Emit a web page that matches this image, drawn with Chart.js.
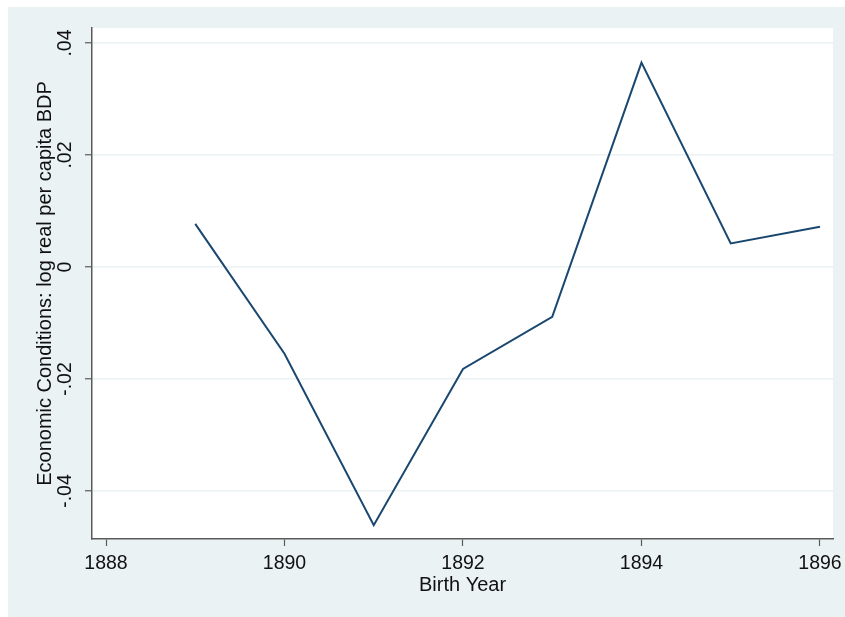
<!DOCTYPE html>
<html>
<head>
<meta charset="utf-8">
<style>
  html, body { margin: 0; padding: 0; background: #ffffff; }
  #wrap { width: 845px; height: 617px; }
</style>
<script src="https://cdn.jsdelivr.net/npm/chart.js@4/dist/chart.umd.min.js"></script>
</head>
<body>
<div id="wrap"><canvas id="c" width="845" height="617"></canvas></div>
<script>
// Birth-cohort economic conditions
const birthYears = [1889, 1890, 1891, 1892, 1893, 1894, 1895, 1896];
const logGdp = [0.0077, -0.0155, -0.0461, -0.0182, -0.0089, 0.0365, 0.0042, 0.0072];
const xTicks = [1888, 1890, 1892, 1894, 1896];
const yTicks = [-0.04, -0.02, 0, 0.02, 0.04];
const yTickLabels = ['-.04', '-.02', '0', '.02', '.04'];

const FONT = 'Liberation Sans, Arial, Helvetica, sans-serif';
const REGION = '#eaf2f3';
const AXIS = '#5a5a5a';
const TEXT = '#111111';

// graph region and white plot region
const backdrop = {
  id: 'backdrop',
  beforeDraw(chart) {
    const { ctx, chartArea: a, width, height } = chart;
    ctx.save();
    ctx.fillStyle = '#ffffff';
    ctx.fillRect(0, 0, width, height);
    ctx.fillStyle = REGION;
    ctx.fillRect(8, 7, width - 8, height - 7);
    ctx.fillStyle = '#ffffff';
    ctx.fillRect(a.left, a.top, a.right - a.left, a.bottom - a.top);
    ctx.restore();
  }
};

// vertical tick labels on the y axis
const yLabels = {
  id: 'yLabels',
  afterDraw(chart) {
    const { ctx } = chart;
    const y = chart.scales.y;
    ctx.save();
    ctx.font = '19.5px ' + FONT;
    ctx.fillStyle = TEXT;
    ctx.textAlign = 'center';
    ctx.textBaseline = 'middle';
    yTicks.forEach((v, i) => {
      ctx.save();
      ctx.translate(y.right - 26, y.getPixelForValue(v));
      ctx.rotate(-Math.PI / 2);
      ctx.fillText(yTickLabels[i], 0, 0);
      ctx.restore();
    });
    ctx.restore();
  }
};

new Chart(document.getElementById('c'), {
  type: 'line',
  data: {
    datasets: [{
      data: birthYears.map((yr, i) => ({ x: yr, y: logGdp[i] })),
      borderColor: '#1a476f',
      borderWidth: 2,
      pointRadius: 0,
      tension: 0,
      fill: false
    }]
  },
  options: {
    responsive: false,
    animation: false,
    devicePixelRatio: 1,
    layout: { padding: { top: 28, right: 0, left: 0, bottom: 0 } },
    plugins: { legend: { display: false }, tooltip: { enabled: false } },
    scales: {
      x: {
        type: 'linear',
        min: 1887.843,
        max: 1896.146,
        afterBuildTicks(s) { s.ticks = xTicks.map(v => ({ value: v })); },
        afterFit(s) { s.height = 78; s.paddingRight = 12; s.paddingLeft = 0; },
        ticks: {
          color: TEXT,
          font: { family: FONT, size: 19.5 },
          padding: 6,
          maxRotation: 0,
          callback: v => String(v)
        },
        grid: { drawOnChartArea: false, tickColor: AXIS, tickLength: 7, tickWidth: 1.2 },
        border: { color: AXIS, width: 1.5 },
        title: {
          display: true,
          text: 'Birth Year',
          color: TEXT,
          font: { family: FONT, size: 20 },
          padding: { top: 0, bottom: 20 }
        }
      },
      y: {
        type: 'linear',
        min: -0.04857,
        max: 0.04268,
        afterBuildTicks(s) { s.ticks = yTicks.map(v => ({ value: v })); },
        afterFit(s) { s.width = 92; s.paddingTop = 0; s.paddingBottom = 0; },
        ticks: { display: false },
        grid: { color: REGION, lineWidth: 1.5, tickColor: AXIS, tickLength: 7, tickWidth: 1.2 },
        border: { color: AXIS, width: 1.5 },
        title: {
          display: true,
          text: 'Economic Conditions: log real per capita BDP',
          color: TEXT,
          font: { family: FONT, size: 20 },
          padding: { top: 33, bottom: 0 }
        }
      }
    }
  },
  plugins: [backdrop, yLabels]
});
</script>
</body>
</html>
